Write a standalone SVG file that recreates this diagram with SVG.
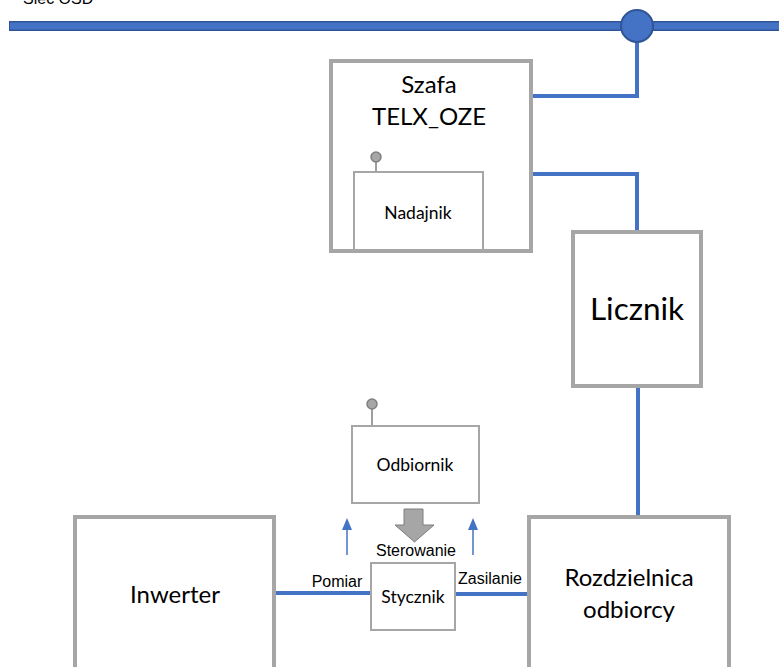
<svg xmlns="http://www.w3.org/2000/svg" width="779" height="667" viewBox="0 0 779 667">
<style>
.box{fill:#fff;stroke:#A6A6A6;stroke-width:4}
.sbox{fill:#fff;stroke:#A6A6A6;stroke-width:2}
.wire{fill:none;stroke:#4472C4;stroke-width:4}
.cal{font-family:Lato,"Open Sans","Noto Sans",sans-serif;fill:#000;text-anchor:middle}
.ari{font-family:"Liberation Sans",Arial,sans-serif;fill:#000;text-anchor:middle;font-size:16px}
.ant{fill:#A6A6A6;stroke:#7F7F7F;stroke-width:1.5}
</style>
<defs>
<marker id="ah" markerWidth="12" markerHeight="10" refX="2" refY="5" orient="auto" markerUnits="userSpaceOnUse" viewBox="0 0 12 10">
<path d="M0,0 L12,5 L0,10 Z" fill="#4472C4"/>
</marker>
</defs>
<text x="23" y="4" class="ari" style="text-anchor:start">Sieć OSD</text>
<g id="connectors">
<line x1="9" y1="26" x2="779" y2="26" stroke="#2F5597" stroke-width="10"/>
<line x1="10" y1="26" x2="779" y2="26" stroke="#4472C4" stroke-width="7"/>
<polyline class="wire" points="637,26 637,96 531,96"/>
<polyline class="wire" points="531,174 637,174 637,232"/>
<line class="wire" x1="638" y1="386" x2="638" y2="517"/>
<line class="wire" x1="274" y1="593" x2="371" y2="593"/>
<line class="wire" x1="455" y1="594" x2="529" y2="594"/>
<line x1="347" y1="555" x2="347" y2="528" stroke="#4472C4" stroke-width="1.5" marker-end="url(#ah)"/>
<line x1="473" y1="555" x2="473" y2="528" stroke="#4472C4" stroke-width="1.5" marker-end="url(#ah)"/>
<path d="M404,509 L423,509 L423,525 L434,525 L414.5,542 L395,525 L404,525 Z" fill="#A6A6A6" stroke="#7F7F7F" stroke-width="1"/>
<text x="416" y="556" class="ari">Sterowanie</text>
<text x="337" y="587" class="ari">Pomiar</text>
<text x="490" y="584" class="ari">Zasilanie</text>
</g>
<g id="osd-node">
<circle cx="637" cy="26" r="16" fill="#4472C4" stroke="#2F5597" stroke-width="2"/>
</g>
<g id="szafa">
<rect class="box" x="331" y="61" width="200" height="190"/>
<text x="429" y="93" class="cal" font-size="24">Szafa</text>
<text x="429" y="125" class="cal" font-size="24">TELX_OZE</text>
</g>
<g id="nadajnik">
<line x1="376" y1="162" x2="376" y2="172" stroke="#7F7F7F" stroke-width="1.5"/>
<circle class="ant" cx="376" cy="157" r="5"/>
<rect class="sbox" x="354" y="172" width="129" height="78"/>
<text x="418" y="219" class="cal" font-size="17.5">Nadajnik</text>
</g>
<g id="licznik">
<rect class="box" x="573" y="232" width="128" height="154"/>
<text x="637" y="320" class="cal" font-size="31.5">Licznik</text>
</g>
<g id="odbiornik">
<line x1="372" y1="409" x2="372" y2="426" stroke="#7F7F7F" stroke-width="1.5"/>
<circle class="ant" cx="372" cy="404" r="5"/>
<rect class="sbox" x="352" y="426" width="127" height="77"/>
<text x="415" y="471" class="cal" font-size="17.5">Odbiornik</text>
</g>
<g id="inwerter">
<rect class="box" x="75" y="517" width="199" height="160"/>
<text x="175" y="603" class="cal" font-size="24">Inwerter</text>
</g>
<g id="stycznik">
<rect class="sbox" x="371" y="563" width="84" height="67"/>
<text x="413" y="603" class="cal" font-size="17.5">Stycznik</text>
</g>
<g id="rozdzielnica">
<rect class="box" x="529" y="517" width="200" height="160"/>
<text x="629" y="586" class="cal" font-size="24">Rozdzielnica</text>
<text x="629" y="618" class="cal" font-size="24">odbiorcy</text>
</g>
</svg>
